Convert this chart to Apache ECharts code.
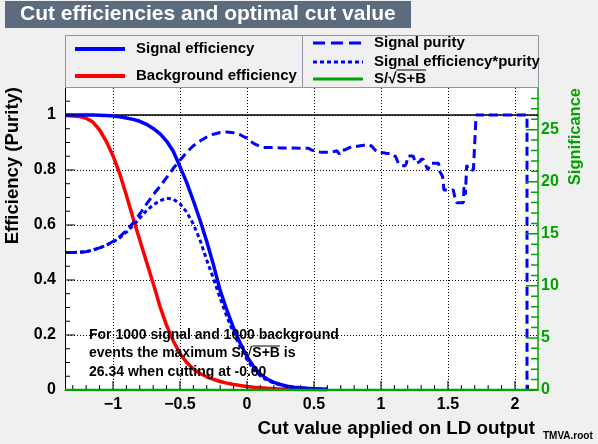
<!DOCTYPE html>
<html>
<head>
<meta charset="utf-8">
<script src="https://cdn.jsdelivr.net/npm/echarts@6/dist/echarts.min.js"></script>
<style>
html, body { margin: 0; padding: 0; background: #f0f0f0; }
#main { width: 598px; height: 444px; }
</style>
</head>
<body>
<div id="main"></div>
<script>
// cut value on the LD output, used by the smooth curves
const cutX = [-1.35, -1.3, -1.25, -1.2, -1.15, -1.1, -1.05, -1.0, -0.95, -0.9, -0.85, -0.8, -0.75, -0.7, -0.65, -0.6, -0.55, -0.5, -0.45, -0.4,
  -0.35, -0.3, -0.25, -0.2, -0.15, -0.1, -0.05, 0, 0.05, 0.1, 0.15, 0.2, 0.25, 0.3, 0.35, 0.4, 0.45, 0.5, 0.55, 0.6]
const sigEff = [1.0, 1.0, 1.0, 1.0, 1.0, 0.999, 0.998, 0.996, 0.993, 0.989, 0.984, 0.977, 0.966, 0.951, 0.932, 0.905, 0.868, 0.812, 0.755, 0.688,
  0.617, 0.54, 0.455, 0.362, 0.29, 0.225, 0.17, 0.122, 0.085, 0.058, 0.04, 0.028, 0.02, 0.014, 0.01, 0.008, 0.006, 0.005, 0.004, 0.003]
const bkgEff = [0.998, 0.996, 0.994, 0.988, 0.974, 0.946, 0.904, 0.852, 0.787, 0.708, 0.625, 0.545, 0.466, 0.388, 0.305, 0.235, 0.178, 0.133, 0.1, 0.077,
  0.06, 0.048, 0.039, 0.031, 0.025, 0.02, 0.016, 0.013, 0.01, 0.008, 0.006, 0.005, 0.004, 0.003, 0.003, 0.002, 0.002, 0.002, 0.001, 0.001]
const effPurity = [0.5, 0.5, 0.501, 0.503, 0.509, 0.516, 0.526, 0.538, 0.553, 0.574, 0.597, 0.625, 0.652, 0.673, 0.688, 0.697, 0.694, 0.677, 0.647, 0.603,
  0.545, 0.472, 0.405, 0.333, 0.267, 0.207, 0.156, 0.111, 0.075, 0.051, 0.035, 0.025, 0.018, 0.012, 0.009, 0.007, 0.005, 0.004, 0.004, 0.003]
// signal purity: smooth part on cutX (first 27 points), then the noisy tail
const purityHead = [0.5, 0.5, 0.501, 0.503, 0.509, 0.517, 0.527, 0.54, 0.557, 0.58, 0.607, 0.64, 0.676, 0.71, 0.74, 0.772, 0.806, 0.835, 0.864, 0.888,
  0.905, 0.92, 0.93, 0.936, 0.938, 0.935, 0.928]
const purityTailX = [-0.02, 0, 0.02, 0.04, 0.06, 0.09, 0.12, 0.2, 0.26, 0.31, 0.32, 0.46, 0.48, 0.52, 0.56, 0.63, 0.64, 0.67, 0.69, 0.70,
  0.71, 0.73, 0.744, 0.78, 0.81, 0.82, 0.87, 0.88, 0.905, 0.93, 0.955, 0.98, 1.02, 1.04, 1.08, 1.09, 1.11, 1.13, 1.155, 1.18,
  1.19, 1.2, 1.24, 1.254, 1.26, 1.29, 1.3, 1.315, 1.33, 1.35, 1.37, 1.43, 1.44, 1.46, 1.47, 1.54, 1.55, 1.565, 1.615, 1.62,
  1.63, 1.64, 1.65, 1.69, 1.71, 2.09, 2.09]
const purityTailY = [0.92, 0.915, 0.905, 0.9, 0.894, 0.887, 0.882, 0.882, 0.88, 0.88, 0.879, 0.879, 0.873, 0.867, 0.864, 0.864, 0.87, 0.87, 0.858, 0.858,
  0.873, 0.873, 0.879, 0.885, 0.885, 0.89, 0.89, 0.893, 0.893, 0.887, 0.873, 0.863, 0.863, 0.86, 0.86, 0.867, 0.848, 0.824, 0.815, 0.815,
  0.824, 0.851, 0.851, 0.846, 0.824, 0.83, 0.839, 0.839, 0.822, 0.8, 0.824, 0.824, 0.794, 0.776, 0.727, 0.727, 0.703, 0.681, 0.681, 0.74,
  0.71, 0.818, 0.8, 0.8, 1.0, 1.0, 0]
// significance S/sqrt(S+B) as drawn (flat at zero)
const signifX = [-1.358, 2.172]
const signifY = [0, 0]
const unityX = [-1.358, 2.172]
const unityY = [1, 1]

// axis ticks
const xTicks = [-1, -0.5, 0, 0.5, 1, 1.5, 2]
const xMinor = [-1.3, -1.2, -1.1, -0.9, -0.8, -0.7, -0.6, -0.4, -0.3, -0.2, -0.1, 0.1, 0.2, 0.3, 0.4, 0.6, 0.7, 0.8, 0.9,
  1.1, 1.2, 1.3, 1.4, 1.6, 1.7, 1.8, 1.9, 2.1]
const yTicks = [0, 0.2, 0.4, 0.6, 0.8, 1]
const yMinor = [0.05, 0.1, 0.15, 0.25, 0.3, 0.35, 0.45, 0.5, 0.55, 0.65, 0.7, 0.75, 0.85, 0.9, 0.95, 1.05]
const sigTicks = [0, 5, 10, 15, 20, 25]
const sigMinor = [1, 2, 3, 4, 6, 7, 8, 9, 11, 12, 13, 14, 16, 17, 18, 19, 21, 22, 23, 24, 26, 27, 28]

const FONT = '"Liberation Sans", Arial, sans-serif'
const GREEN = '#00a300'
const X_MIN = -1.358, X_MAX = 2.172
const Y_MAX = 1.098, SIG_MAX = 29.0

const zip = (xs, ys) => xs.map((x, i) => [x, ys[i]])

// width of text, for the overbar of the square root
const ctx = document.createElement('canvas').getContext('2d')
function textW(s, size) {
  ctx.font = 'bold ' + size + 'px ' + FONT
  return ctx.measureText(s).width
}

let chart = echarts.init(document.getElementById('main'))

const axisFont = { fontFamily: FONT, fontWeight: 'bold', fontSize: 16, color: '#000' }

function txt(x, y, s, size, extra) {
  return Object.assign({
    type: 'text', x: x, y: y, z: 100,
    style: { text: s, font: 'bold ' + size + 'px ' + FONT, fill: '#000', align: 'left', verticalAlign: 'middle' }
  }, extra || {})
}
function seg(x1, y1, x2, y2, color, w, dash) {
  return {
    type: 'line', z: 100, shape: { x1: x1, y1: y1, x2: x2, y2: y2 },
    style: { stroke: color, lineWidth: w, lineDash: dash || null }
  }
}

// ROOT style tick marks inside the frame, as short broken line series
// (tick length given in axis units: 275 px per unit on y, 134 px per unit on x, 10.4 px per unit on the right axis)
function xTickSeries(vals, len) {
  const d = []
  vals.forEach(v => { d.push([v, 0], [v, len], [v, '-']) })
  return { type: 'line', data: d, symbol: 'none', silent: true, z: 5, connectNulls: false, lineStyle: { color: '#000', width: 1 } }
}
function yTickSeries(vals, x0, len, axisIdx, color, w) {
  const d = []
  vals.forEach(v => { d.push([x0, v], [x0 + len, v], ['-', v]) })
  return { type: 'line', yAxisIndex: axisIdx, data: d, symbol: 'none', silent: true, z: 5, connectNulls: false, lineStyle: { color: color, width: w } }
}

// overbars for S+B
const line2 = 'events the maximum S/\u221AS+B is'
const ob1 = 89 + textW('events the maximum S/\u221A', 14)
const ob1w = textW('S+B', 14)
const ob2 = 374 + textW('S/\u221A', 15)
const ob2w = textW('S+B', 15)

const graphics = [
  // title box
  { type: 'rect', shape: { x: 5, y: 1, width: 406, height: 27 }, style: { fill: '#5c6b7d' } },
  txt(20, 14, 'Cut efficiencies and optimal cut value', 21, { style: { text: 'Cut efficiencies and optimal cut value', font: 'bold 21px ' + FONT, fill: '#fff', verticalAlign: 'middle' } }),
  // legend boxes
  { type: 'rect', z: 90, shape: { x: 65.5, y: 35.5, width: 237, height: 52 }, style: { fill: '#f0f0f0', stroke: '#8c96a4', lineWidth: 1 } },
  { type: 'rect', z: 90, shape: { x: 302.5, y: 35.5, width: 236, height: 52 }, style: { fill: '#f0f0f0', stroke: '#8c96a4', lineWidth: 1 } },
  seg(75, 49, 125, 49, '#0000ff', 4),
  txt(136, 49, 'Signal efficiency', 15),
  seg(75, 76, 125, 76, '#ff0000', 4),
  txt(136, 76, 'Background efficiency', 15),
  seg(313, 43, 363, 43, '#0000ff', 3, [12, 6]),
  txt(374, 43, 'Signal purity', 15),
  seg(313, 62, 363, 62, '#0000ff', 3, [4, 3]),
  txt(374, 62, 'Signal efficiency*purity', 15),
  seg(313, 79, 363, 79, GREEN, 3),
  txt(374, 79, 'S/\u221AS+B', 15),
  seg(ob2, 70, ob2 + ob2w, 70, '#000', 1),
  // note inside the frame
  txt(89, 335, 'For 1000 signal and 1000 background', 14),
  txt(89, 353, line2, 14),
  seg(ob1, 346, ob1 + ob1w, 346, '#000', 1),
  txt(89, 372, '26.34 when cutting at -0.60', 14),
  // axis titles
  txt(13, 87, 'Efficiency (Purity)', 18.5, { rotation: Math.PI / 2, style: { text: 'Efficiency (Purity)', font: 'bold 18.5px ' + FONT, fill: '#000', align: 'right', verticalAlign: 'middle' } }),
  txt(575, 88, 'Significance', 16.5, { rotation: Math.PI / 2, style: { text: 'Significance', font: 'bold 16.5px ' + FONT, fill: GREEN, align: 'right', verticalAlign: 'middle' } }),
  txt(535, 429, 'Cut value applied on LD output', 18.8, { style: { text: 'Cut value applied on LD output', font: 'bold 18.8px ' + FONT, fill: '#000', align: 'right', verticalAlign: 'middle' } }),
  txt(543, 436, 'TMVA.root', 10)
]

chart.setOption({
  backgroundColor: '#f0f0f0',
  animation: false,
  grid: { left: 65, right: 60, top: 88, bottom: 54, show: true, backgroundColor: '#fff', borderWidth: 0, containLabel: false, outerBoundsMode: 'none' },
  xAxis: {
    type: 'value', position: 'bottom', min: X_MIN, max: X_MAX,
    axisLine: { onZero: false, lineStyle: { color: '#000', width: 1 } },
    axisTick: { show: false, customValues: xTicks },
    axisLabel: Object.assign({ customValues: xTicks, margin: 7, formatter: v => String(v).replace('-', '\u2212') }, axisFont),
    splitLine: { show: true, lineStyle: { color: '#000', width: 1, type: [1, 2] } }
  },
  yAxis: [
    {
      type: 'value', position: 'left', min: 0, max: Y_MAX,
      axisLine: { show: true, onZero: false, lineStyle: { color: '#000', width: 1 } },
      axisTick: { show: false, customValues: yTicks },
      axisLabel: Object.assign({ customValues: yTicks, margin: 9 }, axisFont),
      splitLine: { show: true, lineStyle: { color: '#000', width: 1, type: [1, 2] } }
    },
    {
      type: 'value', position: 'right', min: 0, max: SIG_MAX,
      axisLine: { show: true, onZero: false, lineStyle: { color: GREEN, width: 1.5 } },
      axisTick: { show: false, customValues: sigTicks },
      axisLabel: Object.assign({}, axisFont, { customValues: sigTicks, margin: 3, color: GREEN }),
      splitLine: { show: false }
    }
  ],
  series: [
    { name: 'unity', type: 'line', data: zip(unityX, unityY), symbol: 'none', lineStyle: { color: '#000', width: 1.5 } },
    { name: 'Background efficiency', type: 'line', data: zip(cutX, bkgEff), symbol: 'none', lineStyle: { color: '#ff0000', width: 3.5 } },
    { name: 'Signal efficiency', type: 'line', data: zip(cutX, sigEff), symbol: 'none', lineStyle: { color: '#0000ff', width: 3.5 } },
    {
      name: 'Signal purity', type: 'line', symbol: 'none',
      data: zip(cutX.slice(0, purityHead.length).concat(purityTailX), purityHead.concat(purityTailY)),
      lineStyle: { color: '#0000ff', width: 3, type: [9, 5] }
    },
    { name: 'Signal efficiency*purity', type: 'line', data: zip(cutX, effPurity), symbol: 'none', lineStyle: { color: '#0000ff', width: 3, type: [4, 3] } },
    xTickSeries(xTicks, 0.033),
    xTickSeries(xMinor, 0.018),
    yTickSeries(yTicks, X_MIN, 0.075, 0, '#000', 1),
    yTickSeries(yMinor, X_MIN, 0.037, 0, '#000', 1),
    yTickSeries(sigTicks, X_MAX, -0.09, 1, GREEN, 1.5),
    yTickSeries(sigMinor, X_MAX, -0.052, 1, GREEN, 1.5),
    { name: 'S/sqrt(S+B)', type: 'line', yAxisIndex: 1, data: zip(signifX, signifY), symbol: 'none', z: 6, lineStyle: { color: GREEN, width: 2.5 } }
  ],
  graphic: graphics
})
</script>
</body>
</html>
